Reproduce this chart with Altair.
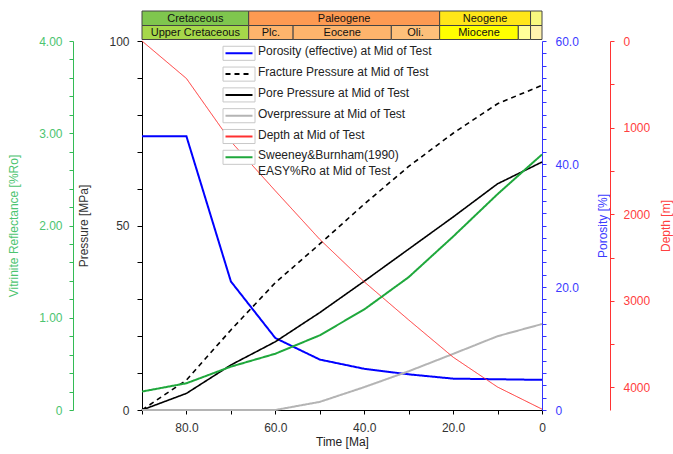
import altair as alt
import pandas as pd

FONT = "Liberation Sans"

# ---- burial history at mid of test, sampled every 10 Ma ----
time_ma = [90, 80, 70, 60, 50, 40, 30, 20, 10, 0]
porosity = [44.5, 44.5, 20.9, 11.7, 8.2, 6.7, 5.8, 5.1, 5.0, 4.9]          # %
fracture_p = [0.0, 8.1, 21.7, 34.5, 45.0, 55.8, 66.0, 75.0, 83.0, 88.0]    # MPa
pore_p = [0.0, 4.5, 12.2, 18.5, 26.4, 34.9, 43.6, 52.3, 61.3, 67.2]        # MPa
over_p = [0.0, 0.0, 0.0, 0.0, 2.2, 6.2, 10.5, 15.2, 20.0, 23.3]            # MPa
depth_m = [0, 433, 1160, 1730, 2290, 2780, 3220, 3650, 3995, 4250]         # m
vitrinite = [0.20, 0.29, 0.47, 0.61, 0.81, 1.09, 1.44, 1.88, 2.34, 2.77]   # %Ro

# ---- geologic time scale ----
period_names = ["Cretaceous", "Paleogene", "Neogene", "Quaternary"]
period_labels = ["Cretaceous", "Paleogene", "Neogene", ""]
period_start = [90.0, 66.0, 23.03, 2.58]
period_end = [66.0, 23.03, 2.58, 0.0]
period_colors = ["#7FC64E", "#FD9A52", "#FFE619", "#F9F97F"]

epoch_names = ["Upper Cretaceous", "Paleocene", "Eocene", "Oligocene",
               "Miocene", "Pliocene", "Pleistocene"]
epoch_labels = ["Upper Cretaceous", "Plc.", "Eocene", "Oli.", "Miocene", "", ""]
epoch_start = [90.0, 66.0, 56.0, 33.9, 23.03, 5.33, 2.58]
epoch_end = [66.0, 56.0, 33.9, 23.03, 5.33, 2.58, 0.0]
epoch_colors = ["#A6D84A", "#FDB46C", "#FDB46C", "#FDC07A", "#FFFF00", "#FFFF99", "#FFF2AE"]

# ---- legend entries ----
legend_keys = ["porosity", "fracture", "pore", "over", "depth", "vitrinite"]
legend_labels = [
    "Porosity (effective) at Mid of Test",
    "Fracture Pressure at Mid of Test",
    "Pore Pressure at Mid of Test",
    "Overpressure at Mid of Test",
    "Depth at Mid of Test",
    "Sweeney&Burnham(1990)\nEASY%Ro at Mid of Test",
]

COLORS = {
    "porosity": "#0000FF",
    "fracture": "#000000",
    "pore": "#000000",
    "over": "#B4B4B4",
    "depth": "#FF3030",
    "vitrinite": "#1FA83C",
}
DASHES = {k: [1, 0] for k in legend_keys}
DASHES["fracture"] = [5, 4]

W, H = 400, 369

df = pd.DataFrame({
    "time": time_ma, "porosity": porosity, "fracture": fracture_p,
    "pore": pore_p, "over": over_p, "depth": depth_m, "vitrinite": vitrinite,
})
periods = pd.DataFrame({"name": period_names, "label": period_labels,
                        "start": period_start, "end": period_end})
periods["mid"] = (periods["start"] + periods["end"]) / 2
epochs = pd.DataFrame({"name": epoch_names, "label": epoch_labels,
                       "start": epoch_start, "end": epoch_end})
epochs["mid"] = (epochs["start"] + epochs["end"]) / 2
legend_df = pd.DataFrame({"key": legend_keys, "label": legend_labels,
                          "row": list(range(len(legend_keys)))})

x_scale = alt.Scale(domain=[90, 0], nice=False, zero=False)
x_axis = alt.Axis(
    values=list(range(0, 91, 10)),
    labelExpr="datum.value % 20 == 0 ? (datum.value == 0 ? '0' : format(datum.value, '.1f')) : ''",
    tickSize=4, labelPadding=8, labelFlush=False, labelOverlap=False,
    domainColor="black", tickColor="black", labelColor="#333333",
    title="Time [Ma]", titleColor="#222222", titlePadding=3,
)


def axis_y(orient, offset, values, label_expr, color, label_color, title, title_x,
           tick=4, pad=8):
    return alt.Axis(
        orient=orient, offset=offset, values=values, labelExpr=label_expr,
        tickSize=tick, labelPadding=pad, labelOverlap=False,
        domainColor=color, tickColor=color, labelColor=label_color,
        title=title, titleColor=label_color, titleAngle=270, titleBaseline="middle",
        titleX=title_x, titleY=H / 2, titleAlign="center",
    )


pressure_axis = axis_y(
    "left", 0, list(range(0, 101, 10)),
    "datum.value % 50 == 0 ? format(datum.value, 'd') : ''",
    "black", "#333333", "Pressure [MPa]", -59, tick=5, pad=8)
vitrinite_axis = axis_y(
    "left", 69, [round(0.2 * i, 1) for i in range(21)],
    "abs(datum.value - round(datum.value)) < 0.001 ? (datum.value == 0 ? '0' : format(datum.value, '.2f')) : ''",
    "#33BB55", "#4CC470", "Vitrinite Reflectance [%Ro]", -60, pad=7)
porosity_axis = axis_y(
    "right", 0, list(range(0, 61, 2)),
    "datum.value % 20 == 0 ? (datum.value == 0 ? '0' : format(datum.value, '.1f')) : ''",
    "#3333FF", "#3B3BFF", "Porosity [%]", 60, pad=9)
depth_axis = axis_y(
    "right", 68, list(range(0, 4001, 500)),
    "datum.value % 1000 == 0 ? format(datum.value, 'd') : ''",
    "#FF3333", "#FF4040", "Depth [m]", 55, pad=9)


def curve(field, domain, axis, width=2.0, reverse=False):
    return alt.Chart(df).mark_line(
        color=COLORS[field], strokeWidth=width, strokeDash=DASHES[field], clip=False
    ).encode(
        x=alt.X("time:Q", scale=x_scale, axis=x_axis if field == "fracture" else None),
        y=alt.Y(f"{field}:Q", scale=alt.Scale(domain=domain, nice=False, zero=False,
                                             reverse=reverse), axis=axis),
    )


# geologic column above the plot
period_rects = alt.Chart(periods).mark_rect(stroke="#444444", strokeWidth=1).encode(
    x=alt.X("start:Q", scale=x_scale, axis=None), x2="end:Q",
    y=alt.value(-30), y2=alt.value(-15.5),
    color=alt.Color("name:N", scale=alt.Scale(domain=period_names, range=period_colors), legend=None),
)
period_text = alt.Chart(periods).mark_text(font=FONT, fontSize=11, color="#111111").encode(
    x=alt.X("mid:Q", scale=x_scale, axis=None), y=alt.value(-22.5), text="label:N")
epoch_rects = alt.Chart(epochs).mark_rect(stroke="#444444", strokeWidth=1).encode(
    x=alt.X("start:Q", scale=x_scale, axis=None), x2="end:Q",
    y=alt.value(-15.5), y2=alt.value(-1.5),
    color=alt.Color("name:N", scale=alt.Scale(domain=epoch_names, range=epoch_colors), legend=None),
)
epoch_text = alt.Chart(epochs).mark_text(font=FONT, fontSize=11, color="#111111").encode(
    x=alt.X("mid:Q", scale=x_scale, axis=None), y=alt.value(-8.5), text="label:N")

# curves
c_por = curve("porosity", [0, 60], porosity_axis)
c_frac = curve("fracture", [0, 100], pressure_axis, width=1.6)
c_pore = curve("pore", [0, 100], None, width=1.6)
c_over = curve("over", [0, 100], None)
c_depth = curve("depth", [0, 4260], depth_axis, width=1.0, reverse=True)
c_vit = curve("vitrinite", [0, 4], vitrinite_axis)

# legend
row_y = alt.Y("row:Q", scale=alt.Scale(domain=[0, 5], range=[12.3, 116.3]), axis=None)
leg_box = alt.Chart(legend_df).mark_point(
    shape="M-1,-0.44L1,-0.44L1,0.44L-1,0.44Z", size=1024, filled=True,
    fill="white", stroke="#C8C8C8", strokeWidth=1, opacity=1,
).encode(x=alt.value(97), y=row_y)
leg_line = alt.Chart(legend_df).mark_rule(strokeWidth=2).encode(
    x=alt.value(83.5), x2=alt.value(110.5), y=row_y,
    color=alt.Color("key:N", scale=alt.Scale(domain=legend_keys,
                                             range=[COLORS[k] for k in legend_keys]), legend=None),
    strokeDash=alt.StrokeDash("key:N", scale=alt.Scale(domain=legend_keys,
                                                       range=[DASHES[k] for k in legend_keys]), legend=None),
)
leg_text = alt.Chart(legend_df).mark_text(
    font=FONT, fontSize=12, color="#222222", align="left", baseline="top",
    dy=-7, lineBreak="\n", lineHeight=16,
).encode(x=alt.value(116), y=row_y, text="label:N")

chart = alt.layer(
    period_rects, epoch_rects, period_text, epoch_text,
    c_por, c_frac, c_pore, c_over, c_depth, c_vit,
    leg_box, leg_line, leg_text,
).resolve_scale(
    x="independent", y="independent", color="independent", strokeDash="independent"
).properties(
    width=W, height=H,
    autosize=alt.AutoSizeParams(type="none"),
    padding={"left": 142, "top": 41, "right": 131, "bottom": 44},
    background="white",
).configure_view(
    strokeWidth=0
).configure_axis(
    grid=False, labelFont=FONT, labelFontSize=12, titleFont=FONT, titleFontSize=12,
    titleFontWeight="normal", domainWidth=1, tickWidth=1,
)

chart.save("out.html", embed_options={"renderer": "svg", "actions": False})
